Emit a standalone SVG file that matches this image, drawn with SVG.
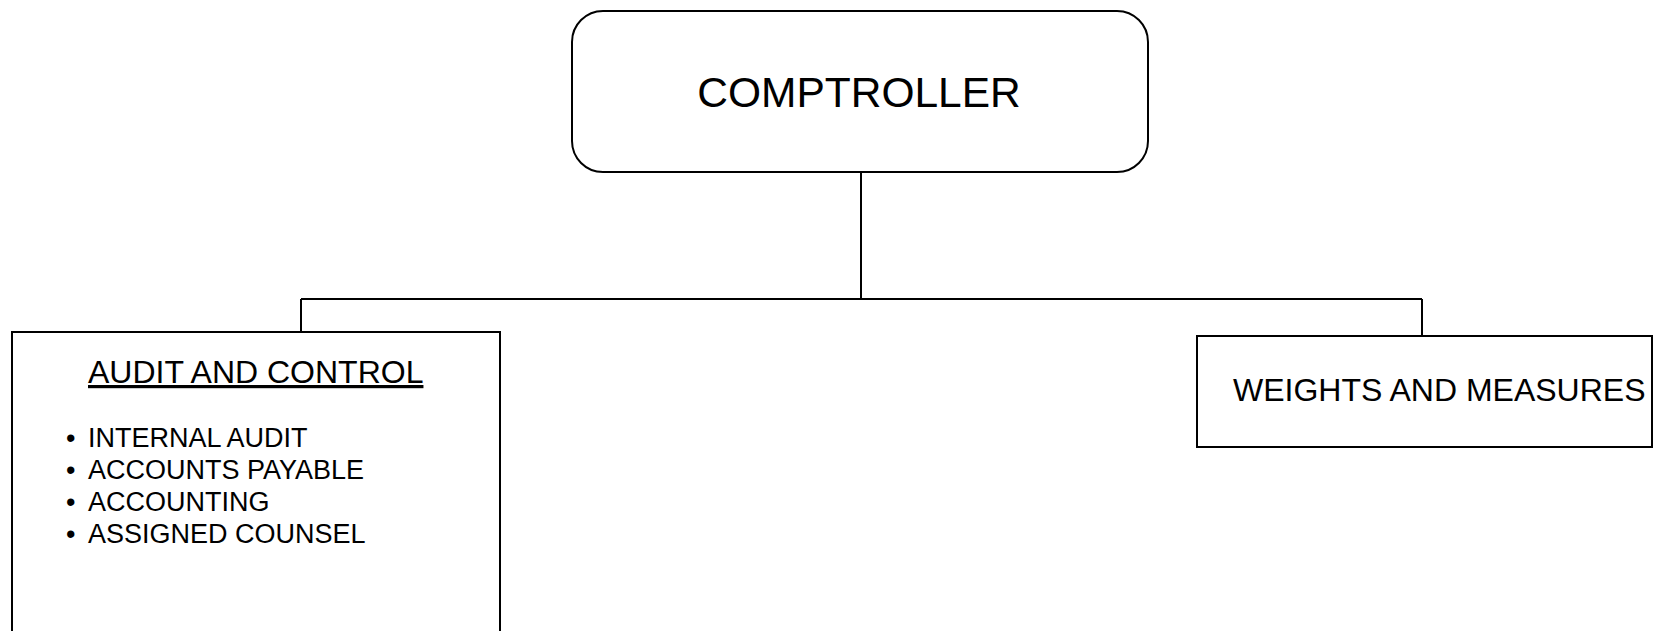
<svg xmlns="http://www.w3.org/2000/svg" width="1654" height="631" viewBox="0 0 1654 631">
<style>
.box{fill:#fff;stroke:#000;stroke-width:2}
.ln{fill:none;stroke:#000;stroke-width:2}
text{font-family:"Liberation Sans",Arial,sans-serif;fill:#000}
.t1{font-size:42.5px}
.t2{font-size:32px}
.t3{font-size:27px}
</style>
<rect width="1654" height="631" fill="#fff"/>
<g id="connectors">
<path class="ln" d="M861,172 V299 M301,299 H1422 M301,299 V332 M1422,299 V336"/>
</g>
<g id="comptroller">
<rect class="box" x="572" y="11" width="576" height="161" rx="31" ry="31"/>
<text class="t1" x="859" y="107" text-anchor="middle">COMPTROLLER</text>
</g>
<g id="audit">
<rect class="box" x="12" y="332" width="488" height="320"/>
<text class="t2" x="88" y="383" text-decoration="underline">AUDIT AND CONTROL</text>
<text class="t3" x="66" y="447">•</text>
<text class="t3" x="88" y="447">INTERNAL AUDIT</text>
<text class="t3" x="66" y="479">•</text>
<text class="t3" x="88" y="479">ACCOUNTS PAYABLE</text>
<text class="t3" x="66" y="511">•</text>
<text class="t3" x="88" y="511">ACCOUNTING</text>
<text class="t3" x="66" y="543">•</text>
<text class="t3" x="88" y="543">ASSIGNED COUNSEL</text>
</g>
<g id="weights">
<rect class="box" x="1197" y="336" width="455" height="111"/>
<text class="t2" x="1233" y="401">WEIGHTS AND MEASURES</text>
</g>
</svg>
